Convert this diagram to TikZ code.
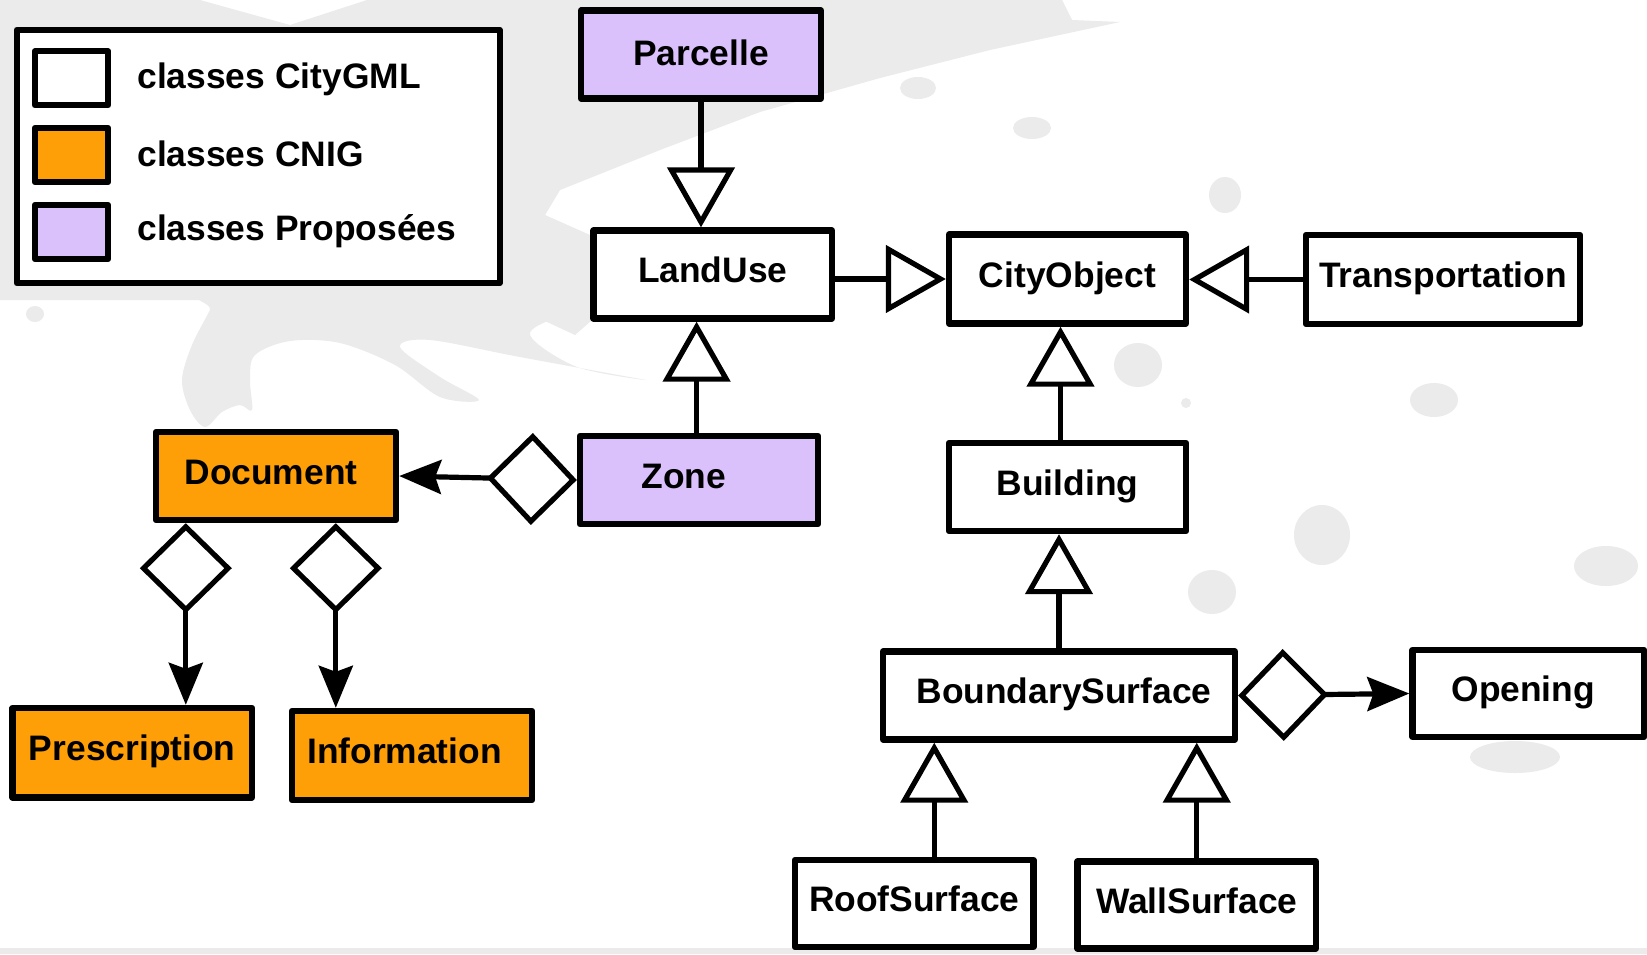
\documentclass[tikz,border=0pt]{standalone}
\usepackage{fontspec}
\setmainfont{Liberation Sans}
\usetikzlibrary{arrows.meta,calc}
\definecolor{cnig}{HTML}{FE9F08}
\definecolor{prop}{HTML}{DAC1FC}
\definecolor{splash}{HTML}{EBEBEB}

\begin{document}
\begin{tikzpicture}[x=0.5pt,y=-0.5pt,
  lbl/.style={font=\bfseries\fontsize{17.7}{20}\selectfont},
  cls/.style={lbl, draw, line width=3.2pt, rectangle, inner sep=0pt,
    text height=10pt, text depth=2pt, line join=round, fill=white},
  swatch/.style={draw, line width=3.2pt, rectangle, inner sep=0pt,
    minimum width=36.5pt, minimum height=27pt, line join=round},
  legtext/.style={lbl, anchor=base west, inner sep=0pt},
  conn/.style={line width=2.6pt},
  gen/.style={conn, -{Triangle[length=30pt, width=33.5pt, fill=white]}},
  agg/.style={conn, {Diamond[length=45pt, width=46pt, fill=white]}-{Stealth[length=21pt, width=17pt, inset=3pt]}}
]
% page and brush-stroke background
\fill[white] (0,0) rectangle (1647,954);
\fill[splash] (0,0) -- (200,0) -- (290,25) -- (367,0) -- (1062,0) -- (1072,20)
  -- (1120,22) -- (990,50) -- (880,78) -- (760,112) -- (660,150) -- (560,190)
  -- (545,215) -- (590,235) -- (592,320) -- (575,335) -- (500,300) -- (0,300) -- cycle;
\fill[splash] plot[smooth cycle, tension=0.55] coordinates {
  (219,290) (210,310) (192,345) (182,380) (190,410) (205,427) (222,412)
  (240,405) (252,410) (250,380) (255,355) (290,341) (340,343) (395,365)
  (440,397) (479,400) (440,377) (400,347) (430,340) (520,357) (646,380)
  (577,367) (530,335) (560,315) (583,300) (560,288)};
\fill[splash] (35,314) ellipse (9 and 8);
\fill[splash] (918,88) ellipse (18 and 11);
\fill[splash] (1032,128) ellipse (19 and 11);
\fill[splash] (1225,195) ellipse (16 and 18);
\fill[splash] (1138,365) ellipse (24 and 22);
\fill[splash] (1186,403) ellipse (5 and 5);
\fill[splash] (1434,400) ellipse (24 and 17);
\fill[splash] (1322,535) ellipse (28 and 30);
\fill[splash] (1212,592) ellipse (24 and 22);
\fill[splash] (1515,757) ellipse (45 and 16);
\fill[splash] (1606,566) ellipse (32 and 20);
\fill[splash] (0,948) rectangle (1647,954);
\useasboundingbox (0,0) rectangle (1647,954);

% legend
\node[draw, line width=3.2pt, rectangle, inner sep=0pt, fill=white, line join=round,
  minimum width=241.5pt, minimum height=126.5pt] (legend) at (258.2,156.5) {};
\node[swatch, fill=white] (swCity) at (71.5,78.25) {};
\node[swatch, fill=cnig] (swCnig) at (71.5,155) {};
\node[swatch, fill=prop] (swProp) at (71.5,232) {};
\node[legtext] (tCity) at (137,88.3) {classes CityGML};
\node[legtext] (tCnig) at (137,166) {classes CNIG};
\node[legtext] (tProp) at (137,240.7) {classes Proposées};

% classes
\node[cls, fill=prop, text height=11pt, text depth=0pt, minimum width=120pt, minimum height=44pt] (Parcelle) at (701,54.5) {Parcelle};
\node[cls, minimum width=119.25pt, minimum height=44pt] (LandUse) at (712.75,274.5) {LandUse};
\node[cls, minimum width=118.5pt, minimum height=44.5pt] (CityObject) at (1067.5,279) {CityObject};
\node[cls, minimum width=137pt, minimum height=44.5pt] (Transportation) at (1443,279.5) {Transportation};
\node[cls, fill=prop, minimum width=119pt, minimum height=44pt] (Zone) at (699,480) {Zone\hspace*{15pt}};
\node[cls, fill=cnig, minimum width=120pt, minimum height=44pt] (Document) at (276,476) {Document\hspace*{5pt}};
\node[cls, minimum width=118.5pt, minimum height=44pt] (Building) at (1067.5,487) {Building};
\node[cls, minimum width=176pt, minimum height=44pt] (BoundarySurface) at (1059,695.5) {\hspace*{5pt}BoundarySurface};
\node[cls, minimum width=115.75pt, minimum height=43.5pt] (Opening) at (1528.25,693.5) {Opening\hspace*{5pt}};
\node[cls, fill=cnig, minimum width=119.75pt, minimum height=44.75pt] (Prescription) at (132.25,752.75) {Prescription};
\node[cls, fill=cnig, minimum width=120pt, minimum height=44.5pt] (Information) at (412,755.5) {Information\hspace*{7.5pt}};
\node[cls, minimum width=119.25pt, minimum height=43.5pt] (RoofSurface) at (914.25,903.5) {RoofSurface};
\node[cls, minimum width=119.25pt, minimum height=43.5pt] (WallSurface) at (1196.75,905) {WallSurface};

% generalisations
\draw[gen] (Parcelle.south) -- (Parcelle.south |- LandUse.north);
\draw[gen] (LandUse.east |- CityObject.west) -- (CityObject.west);
\draw[gen] (Transportation.west) -- (CityObject.east |- Transportation.west);
\draw[gen] ([xshift=-1.2pt]Zone.north) -- ([xshift=-1.2pt]Zone.north |- LandUse.south);
\draw[gen] ([xshift=-3.5pt]Building.north) -- ([xshift=-3.5pt]Building.north |- CityObject.south);
\draw[gen] (BoundarySurface.north) -- (BoundarySurface.north |- Building.south);
\draw[gen] ([xshift=10pt]RoofSurface.north) -- ([xshift=10pt]RoofSurface.north |- BoundarySurface.south);
\draw[gen] (WallSurface.north) -- (WallSurface.north |- BoundarySurface.south);

% aggregations
\draw[agg] (Zone.west) -- (Document.east);
\draw[agg] ([xshift=16.5pt]Document.south west) -- ([xshift=16.5pt]Document.south west |- Prescription.north);
\draw[agg] ([xshift=91.5pt]Document.south west) -- ([xshift=91.5pt]Document.south west |- Information.north);
\draw[agg] (BoundarySurface.east) -- (Opening.west);
\end{tikzpicture}
\end{document}
